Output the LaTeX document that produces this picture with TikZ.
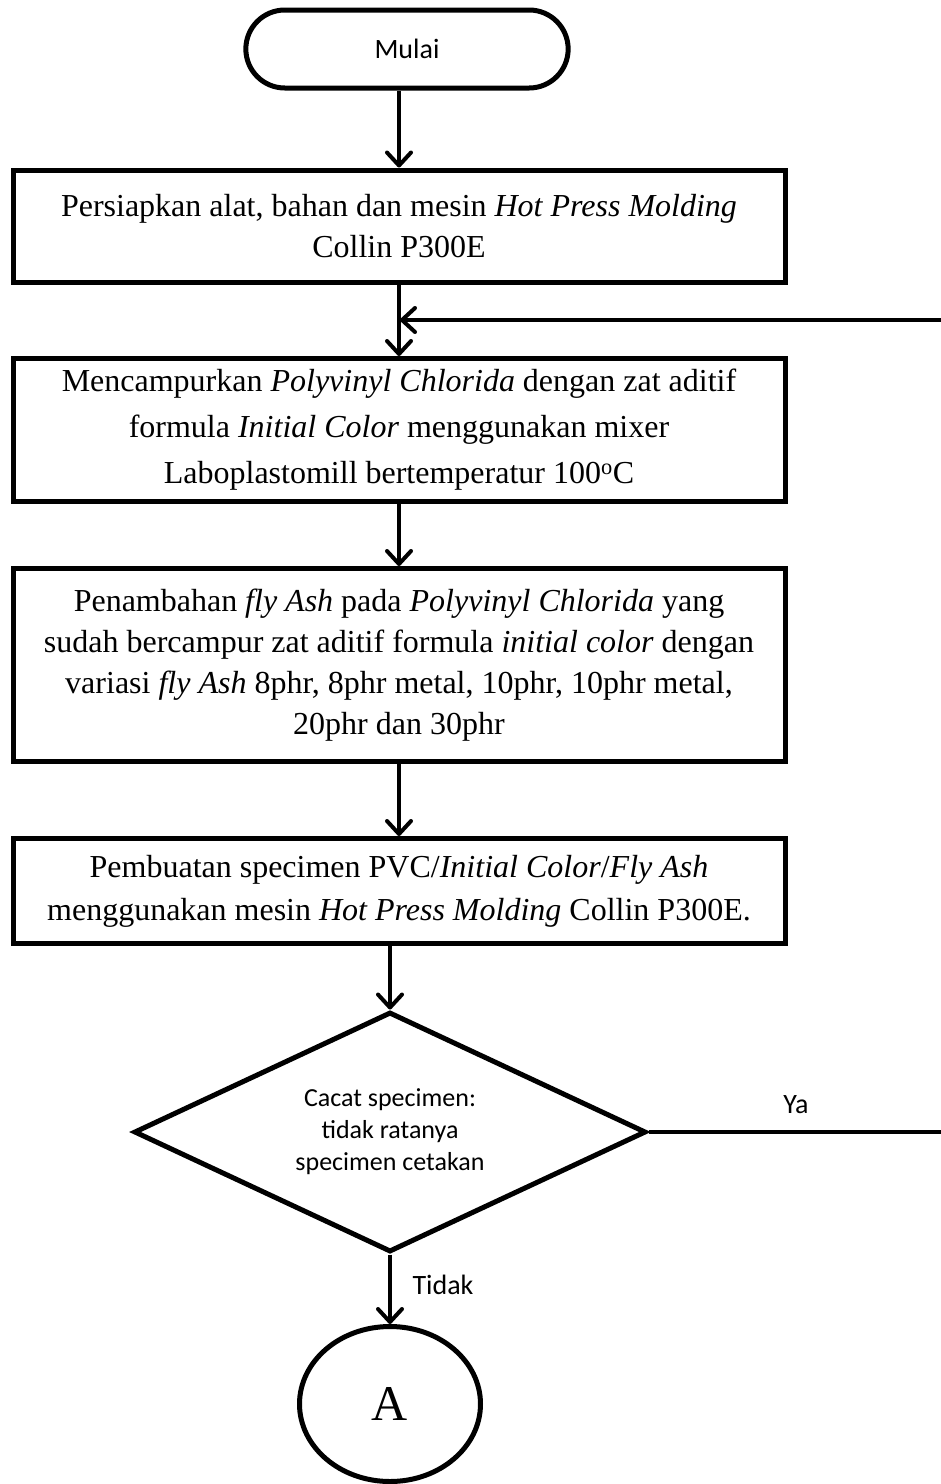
\documentclass[tikz,border=0pt]{standalone}
\usepackage{fontspec}
\setmainfont{Liberation Serif}
\newfontfamily\calibri{Carlito}
\usetikzlibrary{shapes.geometric,shapes.misc,arrows.meta}

\begin{document}
\begin{tikzpicture}[x=1pt,y=-1pt,
  proc/.style={draw,line width=5pt,minimum width=772pt,inner sep=0pt,align=center,font=\fontsize{32}{41}\selectfont},
  arr/.style={draw,line width=4pt,-{Straight Barb[length=13pt,width=24pt,round]}},
  lbl/.style={font=\calibri\fontsize{28}{34}\selectfont}]
\useasboundingbox (0,0) rectangle (941,1484);

\node[draw,line width=5pt,rounded rectangle,minimum width=329pt,minimum height=78pt,lbl] (mulai) at (407,49) {Mulai};
\node[proc,minimum height=112pt] (siap) at (399,226) {Persiapkan alat, bahan dan mesin \textit{Hot Press Molding}\\Collin P300E};
\node[proc,minimum height=143pt,font=\fontsize{32}{46}\selectfont] (campur) at (399,430) {Mencampurkan \textit{Polyvinyl Chlorida} dengan zat aditif\\formula \textit{Initial Color} menggunakan mixer\\Laboplastomill bertemperatur 100\textsuperscript{o}C};
\node[proc,minimum height=193pt] (fly) at (399,665) {Penambahan \textit{fly Ash} pada \textit{Polyvinyl Chlorida} yang\\sudah bercampur zat aditif formula \textit{initial color} dengan\\variasi \textit{fly Ash} 8phr, 8phr metal, 10phr, 10phr metal,\\20phr dan 30phr};
\node[proc,minimum height=105pt,font=\fontsize{32}{43}\selectfont] (cetak) at (399,891) {Pembuatan specimen PVC/\textit{Initial Color}/\textit{Fly Ash}\\menggunakan mesin \textit{Hot Press Molding} Collin P300E.};
\node[draw,diamond,line width=5pt,aspect=2.13,minimum width=512pt,minimum height=240pt,inner sep=0pt,align=center,font=\calibri\fontsize{26}{32}\selectfont] (cek) at (390,1132) {Cacat specimen:\\tidak ratanya\\specimen cetakan};
\node[draw,ellipse,line width=5pt,minimum width=181pt,minimum height=155pt,inner sep=0pt,font=\fontsize{50}{50}\selectfont] (A) at (390,1404) {A};

\node[lbl] (ya) at (796,1105) {Ya};
\node[lbl] (tidak) at (443,1285) {Tidak};

\coordinate (kanan) at (952,320);
\coordinate (masuk) at (400,320);

\draw[arr] (mulai.south -| siap.north) -- (siap.north);
\draw[arr] (siap) -- (campur);
\draw[arr] (campur) -- (fly);
\draw[arr] (fly) -- (cetak);
\draw[arr] (cek.north |- cetak.south) -- (cek.north);
\draw[arr] (cek) -- (A);
\draw[arr] (cek.east) -| (kanan) -- (masuk);
\end{tikzpicture}
\end{document}
